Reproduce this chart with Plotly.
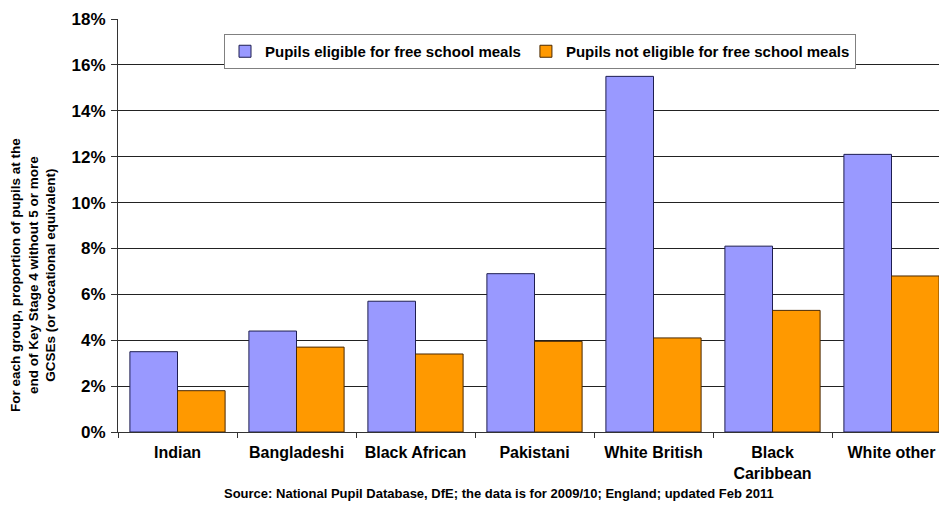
import plotly.graph_objects as go

categories = ["Indian", "Bangladeshi", "Black African", "Pakistani",
              "White British", "Black<br>Caribbean", "White other"]
eligible_fsm = [3.5, 4.4, 5.7, 6.9, 15.5, 8.1, 12.1]
not_eligible_fsm = [1.8, 3.7, 3.4, 3.95, 4.1, 5.3, 6.8]
y_ticks = [0, 2, 4, 6, 8, 10, 12, 14, 16, 18]

FONT = "Arial, 'Liberation Sans', sans-serif"

fig = go.Figure()
fig.add_trace(go.Bar(
    x=categories, y=eligible_fsm,
    name="<b>Pupils eligible for free school meals</b>",
    marker=dict(color="#9999FF", line=dict(color="#1E1E50", width=1)),
))
fig.add_trace(go.Bar(
    x=categories, y=not_eligible_fsm,
    name="<b>Pupils not eligible for free school meals</b>",
    marker=dict(color="#FF9900", line=dict(color="#4A2800", width=1)),
))

W, H = 939, 505
L, R, T, B = 118, 0, 19, 73
plot_w = W - L - R
plot_h = H - T - B
cat_w = 119.0
x_max = -0.5 + plot_w / cat_w

fig.update_layout(
    width=W, height=H,
    margin=dict(l=L, r=R, t=T, b=B, pad=0),
    paper_bgcolor="white", plot_bgcolor="white",
    barmode="group", bargap=0.2, bargroupgap=0.0,
    font=dict(family=FONT, color="black"),
    showlegend=True,
    legend=dict(
        orientation="h",
        x=(224 - L) / plot_w, xanchor="left",
        y=(432 - 34) / plot_h, yanchor="top",
        bgcolor="white", bordercolor="#808080", borderwidth=1,
        font=dict(family=FONT, size=15, color="black"),
        itemwidth=30, tracegroupgap=0,
    ),
    xaxis=dict(
        type="category", range=[-0.5, x_max],
        showline=True, linecolor="#333333", linewidth=1,
        ticks="outside", ticklen=5, tickcolor="#333333",
        tickson="boundaries", showgrid=False,
        tickfont=dict(family=FONT, size=16, color="black"),
        ticklabelstandoff=6,
        tickvals=categories,
        ticktext=["<b>" + c.replace("<br>", "</b><br><b>") + "</b>" for c in categories],
        fixedrange=True,
    ),
    yaxis=dict(
        range=[0, 18], tickvals=y_ticks,
        ticktext=["<b>%d%%</b>" % v for v in y_ticks],
        showline=True, linecolor="#333333", linewidth=1,
        ticks="outside", ticklen=6, tickcolor="#333333",
        showgrid=True, gridcolor="#222222", gridwidth=1,
        zeroline=False,
        tickfont=dict(family=FONT, size=17, color="black"),
        ticklabelstandoff=2,
        fixedrange=True,
    ),
)

fig.add_annotation(
    text="<b>For each group, proportion of pupils at the<br>end of Key Stage 4 without 5 or more<br>GCSEs (or vocational equivalent)</b>",
    xref="paper", yref="paper",
    x=(33 - L) / plot_w, y=(432 - 275) / plot_h,
    xanchor="center", yanchor="middle",
    textangle=-90, showarrow=False, align="center",
    font=dict(family=FONT, size=13.5, color="black"),
)

fig.add_annotation(
    text="<b>Source: National Pupil Database, DfE; the data is for 2009/10; England; updated Feb 2011</b>",
    xref="paper", yref="paper",
    x=(499 - L) / plot_w, y=-(493 - 432) / plot_h,
    xanchor="center", yanchor="middle",
    showarrow=False,
    font=dict(family=FONT, size=13, color="black"),
)

fig.write_html("out.html")
